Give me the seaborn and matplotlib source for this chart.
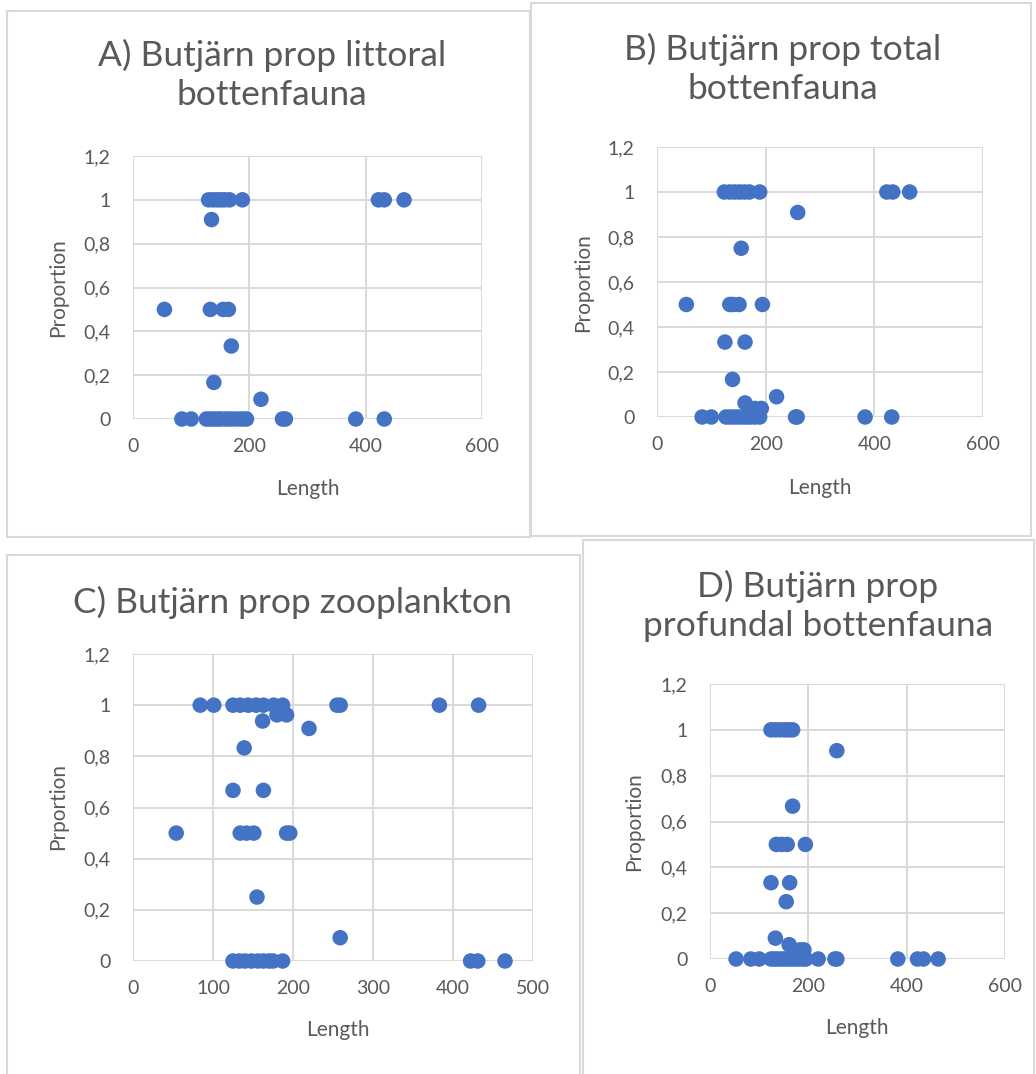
import matplotlib
matplotlib.use("Agg")
import matplotlib.pyplot as plt
from matplotlib.patches import Rectangle
from matplotlib.ticker import FuncFormatter, MultipleLocator
import seaborn as sns
import pandas as pd

# ---------------- data ----------------
A_len = [130, 138, 145, 152, 158, 166, 188, 422, 432, 466,
         135,
         54, 133, 155, 164,
         169,
         139,
         220,
         84, 100, 126, 132, 138, 145, 150, 158, 165, 172, 180, 188, 195, 257, 262, 383, 432]
A_prop = [1, 1, 1, 1, 1, 1, 1, 1, 1, 1,
          0.91,
          0.5, 0.5, 0.5, 0.5,
          0.333,
          0.167,
          0.09,
          0, 0, 0, 0, 0, 0, 0, 0, 0, 0, 0, 0, 0, 0, 0, 0, 0]

B_len = [124, 134, 143, 152, 161, 170, 189, 423, 434, 465,
         259,
         155,
         54, 134, 140, 151, 194,
         125, 162,
         139,
         220,
         162,
         180, 192,
         83, 100, 127, 135, 142, 150, 158, 165, 172, 180, 189, 255, 258, 383, 432]
B_prop = [1, 1, 1, 1, 1, 1, 1, 1, 1, 1,
          0.909,
          0.75,
          0.5, 0.5, 0.5, 0.5, 0.5,
          0.333, 0.333,
          0.167,
          0.09,
          0.0625,
          0.038, 0.038,
          0, 0, 0, 0, 0, 0, 0, 0, 0, 0, 0, 0, 0, 0, 0]

C_len = [84, 101, 125, 134, 144, 154, 163, 176, 187, 255, 259, 383, 432,
         180, 192,
         162,
         220,
         139,
         125, 163,
         54, 134, 142, 151, 192, 196,
         155,
         259,
         125, 133, 140, 148, 156, 163, 170, 175, 187, 422, 431, 465]
C_prop = [1, 1, 1, 1, 1, 1, 1, 1, 1, 1, 1, 1, 1,
          0.962, 0.962,
          0.938,
          0.909,
          0.833,
          0.667, 0.667,
          0.5, 0.5, 0.5, 0.5, 0.5, 0.5,
          0.25,
          0.091,
          0, 0, 0, 0, 0, 0, 0, 0, 0, 0, 0, 0]

D_len = [124, 133, 143, 152, 161, 168,
         258,
         168,
         135, 146, 157, 194,
         124, 162,
         155,
         133,
         161,
         183, 191,
         53, 83, 100, 124, 130, 137, 144, 150, 157, 165, 172, 180, 188, 195, 220, 254, 258, 382, 422, 434, 464]
D_prop = [1, 1, 1, 1, 1, 1,
          0.909,
          0.667,
          0.5, 0.5, 0.5, 0.5,
          0.333, 0.333,
          0.25,
          0.091,
          0.0625,
          0.04, 0.04,
          0, 0, 0, 0, 0, 0, 0, 0, 0, 0, 0, 0, 0, 0, 0, 0, 0, 0, 0, 0, 0]

titles = ["A) Butjärn prop littoral\nbottenfauna",
          "B) Butjärn prop total\nbottenfauna",
          "C) Butjärn prop zooplankton",
          "D) Butjärn prop\nprofundal bottenfauna"]
ylabels = ["Proportion", "Proportion", "Prportion", "Proportion"]
xlabel = "Length"
y_ticks = [0, 0.2, 0.4, 0.6, 0.8, 1, 1.2]
x_max = [600, 600, 500, 600]
x_step = [200, 200, 100, 200]

# ---------------- style ----------------
sns.set_theme(style="white")
plt.rcParams['font.family'] = ['Lato', 'DejaVu Sans']
TXT = "#595959"
GRID = "#d9d9d9"
DOT = "#4472C4"

W, H = 1036, 1074
fig = plt.figure(figsize=(W / 100, H / 100), dpi=100)
fig.patch.set_facecolor("white")

def frac_rect(x0, y0, x1, y1):
    return [x0 / W, 1 - y1 / H, (x1 - x0) / W, (y1 - y0) / H]

# chart boxes (pixel coordinates)
boxes = [(7, 11, 530, 537), (531, 3, 1031, 536), (7, 555, 580, 1080), (583, 540, 1034, 1080)]
for (x0, y0, x1, y1) in boxes:
    fig.patches.append(Rectangle((x0 / W, 1 - y1 / H), (x1 - x0) / W, (y1 - y0) / H,
                                 transform=fig.transFigure, fill=False,
                                 edgecolor=GRID, lw=1.5, zorder=0))

axes_px = [(133, 156, 482, 419), (657, 147, 983, 417), (133, 654, 533, 961), (710, 684, 1005, 959)]
title_pos = [(272, 75), (783, 69), (292, 602), (818, 606)]
ylab_pos = [(58, 288), (583, 283), (58, 806), (634, 822)]
xlab_pos = [(308, 489), (820, 488), (338, 1030), (857, 1028)]

datasets = [(A_len, A_prop), (B_len, B_prop), (C_len, C_prop), (D_len, D_prop)]

fmt = FuncFormatter(lambda v, p: f"{v:g}".replace(".", ","))

for i, (lens, props) in enumerate(datasets):
    ax = fig.add_axes(frac_rect(*axes_px[i]))
    df = pd.DataFrame({"Length": lens, "Proportion": props})
    sns.scatterplot(data=df, x="Length", y="Proportion", ax=ax, color=DOT,
                    s=125, edgecolor="none", linewidth=0, clip_on=False, zorder=3)
    ax.set_xlim(0, x_max[i])
    ax.set_ylim(0, 1.2)
    ax.xaxis.set_major_locator(MultipleLocator(x_step[i]))
    ax.set_yticks(y_ticks)
    ax.yaxis.set_major_formatter(fmt)
    ax.grid(True, color=GRID, lw=1.4)
    ax.set_axisbelow(True)
    for sp in ax.spines.values():
        sp.set_visible(False)
    ax.tick_params(axis="both", length=0, labelsize=14, colors=TXT)
    ax.tick_params(axis="x", pad=14)
    ax.tick_params(axis="y", pad=16)
    ax.set_xlabel("")
    ax.set_ylabel("")
    tx, ty = title_pos[i]
    fig.text(tx / W, 1 - ty / H, titles[i], ha="center", va="center",
             fontsize=25.5, color=TXT, linespacing=1.25)
    lx, ly = ylab_pos[i]
    fig.text(lx / W, 1 - ly / H, ylabels[i], ha="center", va="center",
             rotation=90, fontsize=15, color=TXT)
    xx, xy = xlab_pos[i]
    fig.text(xx / W, 1 - xy / H, xlabel, ha="center", va="center",
             fontsize=15, color=TXT)

fig.savefig("out.png", dpi=100, facecolor="white")
